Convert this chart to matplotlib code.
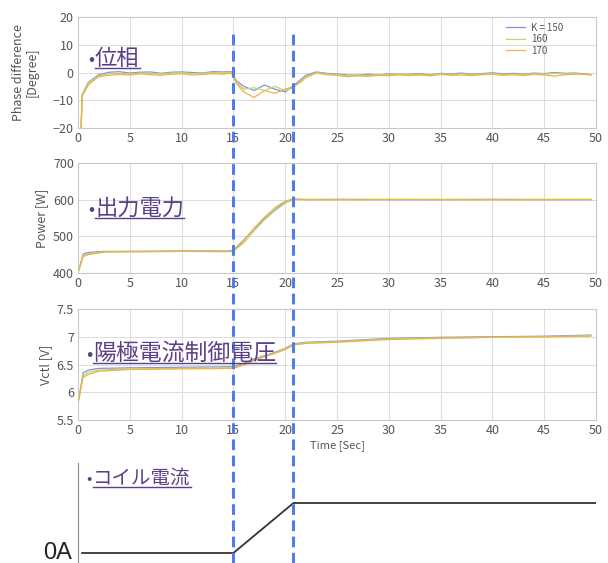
import matplotlib
matplotlib.use("Agg")
import matplotlib.pyplot as plt
from matplotlib.lines import Line2D
from matplotlib.transforms import blended_transform_factory

plt.rcParams['font.family'] = ['Noto Sans CJK JP', 'DejaVu Sans']

# --- 位相差 [deg] ---
t_phase = [0.3, 0.4, 1, 2, 3, 4, 5, 6, 7, 8,
           9, 10, 11, 12, 13, 14, 14.8, 15.3, 16, 17,
           18, 19, 20, 20.8, 21.5, 22, 23, 24, 25, 26,
           27, 28, 29, 30, 31, 32, 33, 34, 35, 36,
           37, 38, 39, 40, 41, 42, 43, 44, 45, 46,
           47, 48, 49, 49.5]
phase_150 = [-20, -8, -3.5, -0.8, 0.1, 0.3, -0.2, 0.1, 0.2, -0.3,
             0.1, 0.2, 0.0, -0.2, 0.3, 0.2, 0.3, -3.0, -5.0, -6.5,
             -4.5, -6.0, -7.0, -4.8, -2.5, -1.0, 0.2, -0.3, -0.5, -0.9,
             -1.0, -0.6, -0.9, -0.5, -0.7, -0.6, -0.4, -0.8, -0.3, -0.5,
             -0.2, -0.6, -0.4, -0.1, -0.5, -0.3, -0.6, -0.2, -0.4, 0.0,
             -0.3, -0.2, -0.5, -0.8]
phase_160 = [-20, -8, -3.8, -1.2, -0.5, -0.3, -0.6, -0.2, -0.4, -0.6,
             -0.2, -0.1, -0.4, -0.3, 0.0, -0.2, 0.1, -3.5, -6.0, -5.5,
             -6.5, -5.0, -6.5, -5.5, -3.0, -1.5, 0.0, -0.5, -0.7, -1.2,
             -0.8, -1.1, -0.7, -0.9, -0.5, -0.8, -0.6, -0.9, -0.4, -0.7,
             -0.5, -0.8, -0.6, -0.3, -0.7, -0.5, -0.8, -0.4, -0.6, -0.3,
             -0.5, -0.4, -0.6, -0.9]
phase_170 = [-20, -8.5, -4.5, -1.5, -1.0, -0.7, -0.9, -0.5, -0.8, -1.0,
             -0.6, -0.5, -0.9, -0.7, -0.4, -0.6, -0.2, -4.0, -7.0, -9.0,
             -6.5, -7.5, -6.0, -5.0, -3.5, -1.8, -0.2, -0.8, -1.0, -1.5,
             -1.2, -1.4, -1.0, -1.2, -0.8, -1.1, -0.9, -1.2, -0.7, -1.0,
             -0.9, -1.1, -0.8, -0.6, -1.0, -0.8, -1.1, -0.7, -0.9, -1.3,
             -0.8, -0.6, -0.7, -0.9]

# --- 出力電力 [W] ---
t_pow = [0, 0.5, 1, 2.5, 5, 10, 14.5, 15, 16, 17,
         18, 19, 20, 20.8, 22, 25, 30, 35, 40, 45, 49.5]
power_150 = [400, 452, 456, 459, 459, 460, 460, 462, 490, 520,
             548, 572, 595, 602, 600, 601, 600, 600, 601, 600, 600]
power_160 = [400, 448, 452, 458, 458, 459, 459, 460, 482, 515,
             545, 570, 590, 600, 601, 600, 600, 601, 600, 601, 600]
power_170 = [400, 445, 450, 457, 458, 459, 458, 459, 488, 522,
             552, 578, 596, 601, 600, 600, 601, 600, 600, 600, 601]

# --- 陽極電流制御電圧 [V] ---
t_vctl = [0, 0.5, 1, 2, 5, 10, 15, 16, 17, 18,
          19, 20, 20.8, 22, 25, 30, 35, 40, 45, 49.5]
vctl_150 = [5.8, 6.35, 6.4, 6.43, 6.44, 6.45, 6.46, 6.52, 6.6, 6.66,
            6.72, 6.79, 6.87, 6.9, 6.92, 6.97, 6.99, 7.0, 7.01, 7.03]
vctl_160 = [5.8, 6.3, 6.36, 6.4, 6.42, 6.43, 6.44, 6.5, 6.58, 6.65,
            6.71, 6.78, 6.86, 6.89, 6.91, 6.96, 6.98, 6.99, 7.0, 7.02]
vctl_170 = [5.8, 6.27, 6.32, 6.38, 6.41, 6.42, 6.43, 6.49, 6.57, 6.64,
            6.7, 6.77, 6.85, 6.88, 6.9, 6.95, 6.97, 6.99, 7.0, 7.01]

# --- コイル電流 (相対値) ---
t_coil = [0.4, 15, 20.8, 50]
coil = [0, 0, 1, 1]

k_labels = ['K = 150', '160', '170']
k_colors = ['#8a8ee0', '#b8d870', '#f3b23e']
switch_times = [15, 20.8]

title_color = '#5a4088'
grid_color = '#dcdcdc'
tick_color = '#555555'

fig = plt.figure(figsize=(6.08, 5.63), dpi=100)
W, H = 608, 563


def px_axes(left, top, right, bottom):
    return fig.add_axes([left / W, 1 - bottom / H, (right - left) / W, (bottom - top) / H])


def style(ax, ylim, yticks):
    ax.set_xlim(0, 50)
    ax.set_ylim(*ylim)
    ax.set_xticks(range(0, 51, 5))
    ax.set_yticks(yticks)
    ax.grid(True, color=grid_color, linewidth=0.7)
    ax.tick_params(length=0, labelsize=9, colors=tick_color, pad=3)
    for s in ax.spines.values():
        s.set_color('#c8c8c8')
        s.set_linewidth(0.8)


ax1 = px_axes(78, 17, 596, 128)
ax2 = px_axes(78, 163, 596, 273)
ax3 = px_axes(78, 309, 596, 420)
ax4 = px_axes(78, 463, 596, 563)

for series, col, lab in zip([phase_150, phase_160, phase_170], k_colors, k_labels):
    ax1.plot(t_phase, series, color=col, linewidth=0.9, label=lab)
style(ax1, (-20, 20), [-20, -10, 0, 10, 20])
ax1.set_yticklabels(['\u221220', '\u221210', '0', '10', '20'])
ax1.set_ylabel('Phase difference\n[Degree]', fontsize=9, color=tick_color, linespacing=1.05)
ax1.yaxis.set_label_coords(-0.076, 0.5)
ax1.legend(loc='upper left', bbox_to_anchor=((500 - 78) / 518, 1.0), frameon=False,
           fontsize=7, handlelength=2.0, handletextpad=0.6, labelspacing=0.15,
           borderaxespad=0.2, labelcolor=tick_color)

for series, col in zip([power_150, power_160, power_170], k_colors):
    ax2.plot(t_pow, series, color=col, linewidth=0.9)
style(ax2, (400, 700), [400, 500, 600, 700])
ax2.set_ylabel('Power [W]', fontsize=9, color=tick_color)
ax2.yaxis.set_label_coords(-0.058, 0.5)

for series, col in zip([vctl_150, vctl_160, vctl_170], k_colors):
    ax3.plot(t_vctl, series, color=col, linewidth=0.9)
style(ax3, (5.5, 7.5), [5.5, 6, 6.5, 7, 7.5])
ax3.set_yticklabels(['5.5', '6', '6.5', '7', '7.5'])
ax3.set_ylabel('Vctl [V]', fontsize=9, color=tick_color)
ax3.yaxis.set_label_coords(-0.05, 0.5)
ax3.set_xlabel('Time [Sec]', fontsize=8, color=tick_color, labelpad=2)

# コイル電流は軸なしの模式図
ax4.plot(t_coil, coil, color='#333333', linewidth=1.3)
ax4.set_xlim(0, 50)
ax4.set_ylim(-0.2, 1.8)
ax4.set_xticks([])
ax4.set_yticks([])
for name in ['top', 'right', 'bottom']:
    ax4.spines[name].set_visible(False)
ax4.spines['left'].set_color('#888888')
ax4.spines['left'].set_linewidth(0.8)
ax4.text(-6 / 518, 0, '0A', transform=blended_transform_factory(ax4.transAxes, ax4.transData),
         ha='right', va='center', fontsize=17, color='#222222', family='Liberation Sans')

# 切替タイミングの破線 (図全体を縦断)
for ts in switch_times:
    tr = blended_transform_factory(ax1.transData, fig.transFigure)
    fig.add_artist(Line2D([ts, ts], [0, 1 - 33 / H], transform=tr, color='#4f7fe0',
                          linewidth=2.2, linestyle=(0, (3.5, 1.8))))

# 見出し (下線付き)
headings = [(88, 65, '位相', 16),
            (88, 215, '出力電力', 16),
            (86, 360, '陽極電流制御電圧', 16.5),
            (86, 484, 'コイル電流', 14)]
texts = []
for x, y, s, fs in headings:
    fig.text(x / W, 1 - y / H, '\u2022', fontsize=fs * 0.8, color=title_color,
             ha='left', va='baseline')
    t = fig.text((x + 7) / W, 1 - y / H, s, fontsize=fs, color=title_color,
                 ha='left', va='baseline')
    texts.append((t, y))

fig.canvas.draw()
for t, y in texts:
    bb = t.get_window_extent()
    yl = H - y - 3
    fig.add_artist(Line2D([bb.x0, bb.x1], [yl, yl], transform=None,
                          color=title_color, linewidth=1.0))

fig.savefig('out.png', dpi=100)
